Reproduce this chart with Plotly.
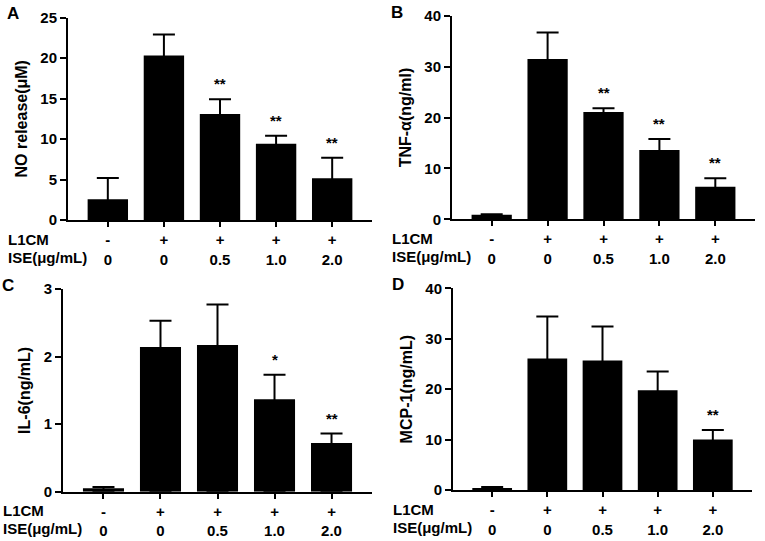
import plotly.graph_objects as go

# group labels under each bar
l1cm = ['-', '+', '+', '+', '+']
ise = ['0', '0', '0.5', '1.0', '2.0']
groups = ['g1', 'g2', 'g3', 'g4', 'g5']

# A: NO release
no_mean = [2.55, 20.3, 13.1, 9.4, 5.15]
no_err = [2.65, 2.6, 1.8, 1.0, 2.55]
no_sig = ['', '', '**', '**', '**']

# B: TNF-a
tnf_mean = [0.9, 31.5, 21.1, 13.6, 6.4]
tnf_err = [0.1, 5.2, 0.7, 2.2, 1.65]
tnf_sig = ['', '', '**', '**', '**']

# C: IL-6
il6_mean = [0.05, 2.14, 2.17, 1.37, 0.72]
il6_err = [0.02, 0.39, 0.6, 0.36, 0.14]
il6_sig = ['', '', '', '*', '**']

# D: MCP-1
mcp_mean = [0.4, 26.1, 25.7, 19.8, 10.0]
mcp_err = [0.2, 8.3, 6.7, 3.7, 1.9]
mcp_sig = ['', '', '', '', '**']

FONT = 'Liberation Sans, Arial, sans-serif'
W, H = 765, 541

panels = [
    # letter, ytitle, mean, err, sig, ymax, dtick, x px, y px (top, bottom)
    ('A', 'NO release(μM)', no_mean, no_err, no_sig, 25, 5, (68, 372), (17.5, 220)),
    ('B', 'TNF-α(ng/ml)', tnf_mean, tnf_err, tnf_sig, 40, 10, (452, 755), (15.7, 219.3)),
    ('C', 'IL-6(ng/mL)', il6_mean, il6_err, il6_sig, 3, 1, (63, 372), (289, 491.7)),
    ('D', 'MCP-1(ng/mL)', mcp_mean, mcp_err, mcp_sig, 40, 10, (453, 752), (288.3, 490)),
]

ticktext = [a + '<br>' + b for a, b in zip(l1cm, ise)]

fig = go.Figure()
annotations = []
layout = {}

for i, (letter, ytitle, mean, err, sig, ymax, dtick, xpx, ypx) in enumerate(panels):
    n = '' if i == 0 else str(i + 1)
    xa, ya = 'x' + n, 'y' + n
    fig.add_trace(go.Bar(
        x=groups, y=mean, xaxis=xa, yaxis=ya,
        marker=dict(color='black', line=dict(width=0)),
        width=0.72,
        # lower arm goes down to zero so its cap sits hidden inside the bar
        error_y=dict(type='data', array=err, arrayminus=mean,
                     symmetric=False, color='black', thickness=2, width=11),
        showlegend=False,
    ))
    layout['xaxis' + n] = dict(
        domain=[xpx[0] / W, xpx[1] / W], anchor=ya, automargin=False,
        range=[-0.71, 4.71], tickmode='array', tickvals=groups, ticktext=ticktext,
        showline=True, linecolor='black', linewidth=2,
        ticks='outside', ticklen=5, tickwidth=2, tickcolor='black',
        tickfont=dict(family=FONT, size=15, color='black', weight='bold'),
        showgrid=False, zeroline=False, fixedrange=True,
    )
    layout['yaxis' + n] = dict(
        domain=[1 - ypx[1] / H, 1 - ypx[0] / H], anchor=xa, automargin=False,
        range=[0, ymax], dtick=dtick,
        showline=True, linecolor='black', linewidth=2,
        ticks='outside', ticklen=6, tickwidth=2, tickcolor='black',
        tickfont=dict(family=FONT, size=15, color='black', weight='bold'),
        title=dict(text=ytitle, standoff=9,
                   font=dict(family=FONT, size=16, color='black', weight='bold')),
        showgrid=False, zeroline=False, fixedrange=True,
    )
    # panel letter
    annotations.append(dict(
        text=letter, xref='paper', yref='paper',
        x=(xpx[0] - 63) / W, y=1 - (ypx[0] - 15) / H,
        xanchor='left', yanchor='top', showarrow=False,
        font=dict(family=FONT, size=17, color='black', weight='bold'),
    ))
    # row labels
    for j, lab in enumerate(['L1CM', 'ISE(μg/mL)']):
        annotations.append(dict(
            text=lab, xref='paper', yref='paper',
            x=(xpx[0] - 62) / W, y=1 - (ypx[1] + 19 + 18 * j) / H,
            xanchor='left', yanchor='middle', showarrow=False,
            font=dict(family=FONT, size=15, color='black', weight='bold'),
        ))
    # significance stars
    for g, m, e, s in zip(groups, mean, err, sig):
        if s:
            annotations.append(dict(
                text=s, xref=xa, yref=ya, x=g, y=m + e,
                yanchor='bottom', yshift=5, showarrow=False,
                font=dict(family=FONT, size=15, color='black', weight='bold'),
            ))

fig.update_layout(
    width=W, height=H, margin=dict(l=0, r=0, t=0, b=0, autoexpand=False),
    paper_bgcolor='white', plot_bgcolor='white',
    annotations=annotations, **layout,
)

# drop the browser's default 8px body margin so the figure fills the window
fig.write_html('out.html', config={'displayModeBar': False},
               post_script="document.body.style.margin = '0';")
